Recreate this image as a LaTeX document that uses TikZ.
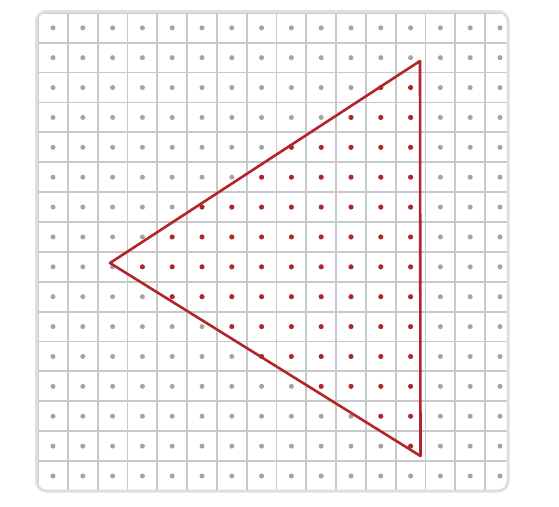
\documentclass[tikz,border=0pt]{standalone}
\definecolor{gridline}{HTML}{C8C8C8}
\definecolor{dotgray}{HTML}{A4A4A4}
\definecolor{tri}{HTML}{B3242B}
\definecolor{framecol}{HTML}{DCDFE4}
\begin{document}
\begin{tikzpicture}[x=1pt,y=-1pt,
  gridl/.style={draw=gridline,line width=1.8pt},
  gdot/.style={fill=dotgray},
  rdot/.style={fill=tri},
  triedge/.style={draw=tri,line width=2.6pt,line join=round},
  framebox/.style={draw=framecol,line width=3pt,rounded corners=10pt}]
\fill[white] (0,0) rectangle (559,506);
\useasboundingbox (0,0) rectangle (559,506);
\begin{scope}
  \clip[rounded corners=10pt] (36.5,11.5) rectangle (508,491);
  \foreach \k in {0,...,16}{
    \draw[gridl] ({38.1+29.8*\k},0) -- ({38.1+29.8*\k},506);
    \draw[gridl] (0,{12.8+29.88*\k}) -- (559,{12.8+29.88*\k});
  }
  \foreach \i in {0,...,15}
    \foreach \j in {0,...,15}
      \fill[gdot] ({53+29.8*\i},{27.8+29.88*\j}) circle[radius=2.5pt];
\end{scope}
\foreach \j/\a in {2/11,3/10,4/8,5/7,6/5,7/4,8/3,9/4,10/6,11/7,12/9,13/11,14/12}
  \foreach \i in {\a,...,12}
    \fill[rdot] ({53+29.8*\i},{27.8+29.88*\j}) circle[radius=2.5pt];
\coordinate (A) at (420,61);
\coordinate (B) at (110,263);
\coordinate (C) at (420.5,456);
\draw[triedge] (A) -- (B) -- (C) -- cycle;
\draw[framebox] (36.5,11.5) rectangle (508,491);
\end{tikzpicture}
\end{document}
